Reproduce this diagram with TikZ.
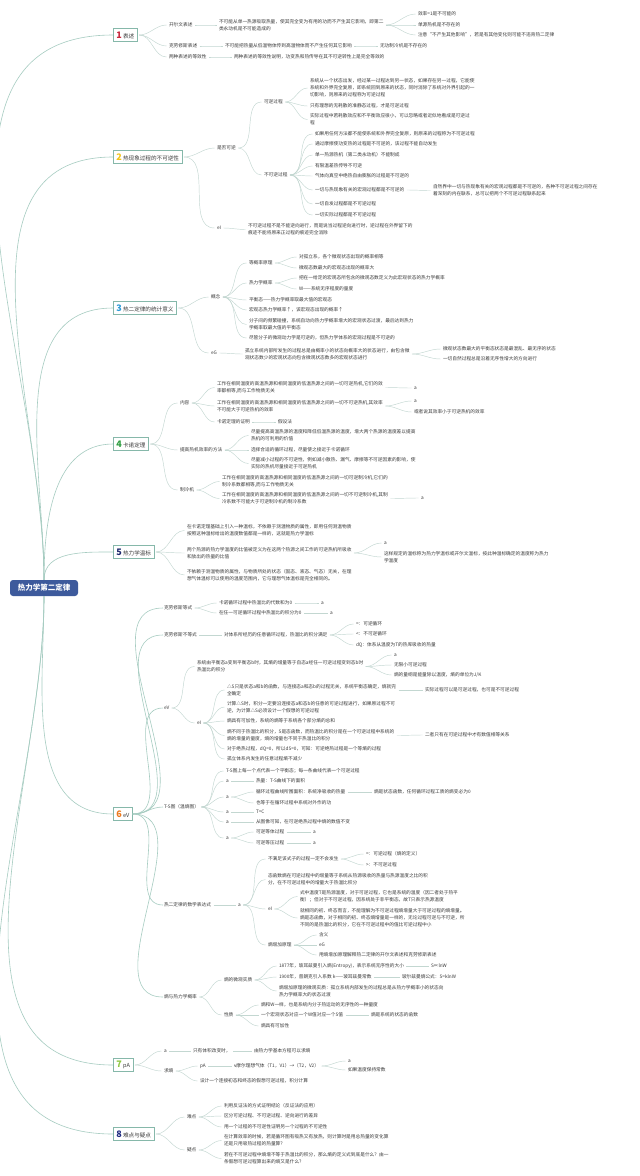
\documentclass[tikz,border=0pt]{standalone}
\usepackage{fontspec}
\setmainfont{Noto Sans CJK SC}
\definecolor{txtc}{HTML}{3A3A3A}
\definecolor{lnc}{HTML}{C3D7D1}
\definecolor{trunkc}{HTML}{A6CCC1}
\definecolor{boxc}{HTML}{86B8AA}
\definecolor{rootc}{HTML}{3D5A9C}
\definecolor{cA}{HTML}{C7283C}
\definecolor{cB}{HTML}{F2C41A}
\definecolor{cC}{HTML}{2C9AD6}
\definecolor{cD}{HTML}{2F9E42}
\definecolor{cE}{HTML}{1F2A6E}
\definecolor{cF}{HTML}{EC7A1E}
\definecolor{cG}{HTML}{8CC63F}
\definecolor{cH}{HTML}{1E2A80}
\newcommand\mmnum[2]{{\fontsize{9}{9}\selectfont\bfseries\color{#1}#2}}
\tikzset{
  txt/.style={anchor=west,align=left,inner sep=0.8pt,text=txtc,font=\fontsize{4.7}{7}\selectfont},
  brbox/.style={anchor=west,draw=boxc,fill=white,line width=0.7pt,inner xsep=3pt,inner ysep=1pt,minimum height=12.5pt,text=txtc,font=\fontsize{5.6}{6}\selectfont},
  rootbox/.style={fill=rootc,rounded corners=3pt,text=white,minimum width=68pt,minimum height=16pt,font=\fontsize{7.5}{8}\selectfont\bfseries},
  thinln/.style={draw=lnc,line width=0.45pt,shorten <=1.5pt,shorten >=1.5pt},
  trunkln/.style={draw=trunkc,line width=0.6pt}
}
\newcommand\mmt[4]{\node[txt] (#1) at (#2,#3) {#4};}
\newcommand\mml[2]{\draw[thinln] (#1.east) to[out=0,in=180] (#2.west);}
\newcommand\mmf[2]{\foreach \nn in {#2} {\mml{#1}{\nn}}}
\begin{document}
\begin{tikzpicture}[x=1pt,y=-1pt]
\fill[white] (0,0) rectangle (640,1176);
\useasboundingbox (0,0) rectangle (640,1176);
% root
\node[rootbox] (root) at (44,588) {热力学第二定律};
% branch boxes
\node[brbox] (b1) at (113,35) {\mmnum{cA}{1} 表述};
\node[brbox] (b2) at (113,157) {\mmnum{cB}{2} 热现象过程的不可逆性};
\node[brbox] (b3) at (113,308) {\mmnum{cC}{3} 热二定律的统计意义};
\node[brbox] (b4) at (113,444) {\mmnum{cD}{4} 卡诺定理};
\node[brbox] (b5) at (113,552) {\mmnum{cE}{5} 热力学温标};
\node[brbox] (b6) at (113,814) {\mmnum{cF}{6} eV};
\node[brbox] (b7) at (113,1065) {\mmnum{cG}{7} pA};
\node[brbox] (b8) at (113,1134) {\mmnum{cH}{8} 难点与疑点};
\foreach \nn in {b1,b2,b3,b4,b5} {\draw[trunkln] (root.north) to[out=90,in=180] (\nn.west);}
\foreach \nn in {b6,b7,b8} {\draw[trunkln] (root.south) to[out=-90,in=180] (\nn.west);}
% ---------- section 1
\mmt{s1a}{168}{25}{开尔文表述}
\mmt{s1a1}{218}{25}{不可能从单一热源吸取热量，使其完全变为有用的功而不产生其它影响，即第二\\类永动机是不可能造成的}
\mmt{s1a1a}{417}{14}{效率=1是不可能的}
\mmt{s1a1b}{417}{25}{单源热机是不存在的}
\mmt{s1a1c}{417}{35}{注意“不产生其他影响”，若是有其他变化则可能不违背热二定律}
\mmt{s1b}{168}{46}{克劳修斯表述}
\mmt{s1b1}{224}{46}{不可能把热量从低温物体传到高温物体而不产生任何其它影响}
\mmt{s1b2}{379}{46}{无功制冷机是不存在的}
\mmt{s1c}{168}{57}{两种表述的等效性}
\mmt{s1c1}{233}{57}{两种表述的等效性说明，功变热和热传导在其不可逆转性上是完全等效的}
\mmf{b1}{s1a,s1b,s1c}
\mml{s1a}{s1a1}
\mmf{s1a1}{s1a1a,s1a1b,s1a1c}
\mml{s1b}{s1b1} \mml{s1b1}{s1b2} \mml{s1c}{s1c1}
% ---------- section 2
\mmt{s2a}{216}{148}{是否可逆}
\mmt{s2a1}{263}{102}{可逆过程}
\mmt{s2a1a}{309}{88}{系统从一个状态出发，经过某一过程达到另一状态，如果存在另一过程，它能使\\系统和外界完全复原，即系统回到原来的状态，同时消除了系统对外界引起的一\\切影响，则原来的过程称为可逆过程}
\mmt{s2a1b}{309}{106}{只有理想的无耗散的准静态过程，才是可逆过程}
\mmt{s2a1c}{309}{119.5}{实际过程中若耗散效应和不平衡效应很小，可以忽略或者近似地看成是可逆过\\程}
\mmt{s2a2}{263}{175}{不可逆过程}
\mmt{s2a2a}{314}{134}{如果用任何方法都不能使系统和外界完全复原，则原来的过程称为不可逆过程}
\mmt{s2a2b}{314}{144}{通过摩擦使功变热的过程是不可逆的，该过程不能自动发生}
\mmt{s2a2c}{314}{155}{单一热源热机（第二类永动机）不能制成}
\mmt{s2a2d}{314}{166}{有限温差热传导不可逆}
\mmt{s2a2e}{314}{176}{气体向真空中绝热自由膨胀的过程是不可逆的}
\mmt{s2a2f}{314}{190}{一切与热现象有关的宏观过程都是不可逆的}
\mmt{s2a2g}{314}{204}{一切自发过程都是不可逆过程}
\mmt{s2a2h}{314}{215}{一切实际过程都是不可逆过程}
\mmt{s2a2f1}{432}{190.5}{自然界中一切与热现象有关的宏观过程都是不可逆的，各种不可逆过程之间存在\\着深刻的内在联系，总可以把两个不可逆过程联系起来}
\mmt{s2b}{216}{228}{eI}
\mmt{s2b1}{247}{229.5}{不可逆过程不是不能逆向进行，而是说当过程逆向进行时，逆过程在外界留下的\\痕迹不能将原来正过程的痕迹完全消除}
\mml{b2}{s2a} \mml{b2}{s2b}
\mml{s2a}{s2a1} \mml{s2a}{s2a2}
\mmf{s2a1}{s2a1a,s2a1b,s2a1c}
\mmf{s2a2}{s2a2a,s2a2b,s2a2c,s2a2d,s2a2e,s2a2f,s2a2g,s2a2h}
\mml{s2a2f}{s2a2f1} \mml{s2b}{s2b1}
% ---------- section 3
\mmt{s3a}{210}{297}{概念}
\mmt{s3a1}{248}{263}{等概率原理}
\mmt{s3a1a}{298}{257}{对孤立系，各个微观状态出现的概率相等}
\mmt{s3a1b}{298}{268}{微观态数最大的宏观态出现的概率大}
\mmt{s3a2}{248}{283}{热力学概率}
\mmt{s3a2a}{298}{278}{把在一给定的宏观态所包含的微观态数定义为此宏观状态的热力学概率}
\mmt{s3a2b}{298}{289}{W——系统无序程度的量度}
\mmt{s3a3}{248}{300}{平衡态——热力学概率取最大值的宏观态}
\mmt{s3a4}{248}{310}{宏观态热力学概率↑，该宏观态出现的概率↑}
\mmt{s3a5}{248}{324.5}{分子间的频繁碰撞，系统自动向热力学概率增大的宏观状态过渡，最后达到热力\\学概率取最大值的平衡态}
\mmt{s3a6}{248}{338}{尽管分子的微观动力学是可逆的，但热力学体系的宏观过程是不可逆的}
\mmt{s3b}{210}{353}{eG}
\mmt{s3b1}{244}{354}{孤立系统内部所发生的过程总是由概率小的状态向概率大的状态进行，由包含微\\观状态数少的宏观状态向包含微观状态数多的宏观状态进行}
\mmt{s3b1a}{442}{349}{微观状态数最大的平衡态状态是最混乱、最无序的状态}
\mmt{s3b1b}{442}{359}{一切自然过程总是沿着无序性增大的方向进行}
\mml{b3}{s3a} \mml{b3}{s3b}
\mmf{s3a}{s3a1,s3a2,s3a3,s3a4,s3a5,s3a6}
\mml{s3a1}{s3a1a} \mml{s3a1}{s3a1b} \mml{s3a2}{s3a2a} \mml{s3a2}{s3a2b}
\mml{s3b}{s3b1} \mml{s3b1}{s3b1a} \mml{s3b1}{s3b1b}
% ---------- section 4
\mmt{s4a}{179}{403}{内容}
\mmt{s4a1}{216}{387.5}{工作在相同温度的高温热源和相同温度的低温热源之间的一切可逆热机,它们的效\\率都相等,而与工作物质无关}
\mmt{s4a1a}{413}{388}{a}
\mmt{s4a2}{216}{406}{工作在相同温度的高温热源和相同温度的低温热源之间的一切不可逆热机,其效率\\不可能大于可逆热机的效率}
\mmt{s4a2a}{413}{401}{a}
\mmt{s4a2b}{413}{412}{或者说其效率小于可逆热机的效率}
\mmt{s4a3}{216}{422}{卡诺定理的证明}
\mmt{s4a3a}{277}{422}{假设法}
\mmt{s4b}{179}{450}{提高热机效率的方法}
\mmt{s4b1}{250}{435.5}{尽量提高高温热源的温度和降低低温热源的温度，增大两个热源的温度差以提高\\热机的可利用的价值}
\mmt{s4b2}{250}{450}{选择合适的循环过程，尽量使之接近于卡诺循环}
\mmt{s4b3}{250}{463.5}{尽量减小过程的不可逆性，例如减小散热、漏气、摩擦等不可逆因素的影响，使\\实际的热机尽量接近于可逆热机}
\mmt{s4c}{179}{490}{制冷机}
\mmt{s4c1}{221}{481.5}{工作在相同温度的高温热源和相同温度的低温热源之间的一切可逆制冷机,它们的\\制冷系数都相等,而与工作物质无关}
\mmt{s4c2}{221}{498.5}{工作在相同温度的高温热源和相同温度的低温热源之间的一切不可逆制冷机,其制\\冷系数不可能大于可逆制冷机的制冷系数}
\mmt{s4c2a}{420}{498}{a}
\mml{b4}{s4a} \mml{b4}{s4b} \mml{b4}{s4c}
\mmf{s4a}{s4a1,s4a2,s4a3}
\mml{s4a1}{s4a1a} \mml{s4a2}{s4a2a} \mml{s4a2}{s4a2b} \mml{s4a3}{s4a3a}
\mmf{s4b}{s4b1,s4b2,s4b3}
\mml{s4c}{s4c1} \mml{s4c}{s4c2} \mml{s4c2}{s4c2a}
% ---------- section 5
\mmt{s5a}{186}{530.5}{在卡诺定理基础上引入一种温标，不依赖于测温物质的属性，即用任何测温物质\\按照这种温标给出的温度数值都是一样的，这就是热力学温标}
\mmt{s5b}{186}{553}{两个热源的热力学温度的比值被定义为在这两个热源之间工作的可逆热机所吸收\\和放出的热量的比值}
\mmt{s5b1}{383}{543}{a}
\mmt{s5b2}{383}{557}{这样规定的温标称为热力学温标或开尔文温标，按此种温标确定的温度称为热力\\学温度}
\mmt{s5c}{186}{575}{不依赖于测温物质的属性，与物质所处的状态（固态、液态、气态）无关，在理\\想气体温标可以使用的温度范围内，它与理想气体温标是完全相同的。}
\mmf{b5}{s5a,s5b,s5c}
\mml{s5b}{s5b1} \mml{s5b}{s5b2}
% ---------- section 6
\mmt{s6a}{163}{608}{克劳修斯等式}
\mmt{s6a1}{218}{603}{卡诺循环过程中热温比的代数和为0}
\mmt{s6a1a}{320}{603}{a}
\mmt{s6a2}{218}{613}{在任一可逆循环过程中热温比的积分为0}
\mmt{s6a2a}{329}{613}{a}
\mmt{s6b}{163}{635}{克劳修斯不等式}
\mmt{s6b1}{223}{635}{对体系所经历的任意循环过程，热温比的积分满足}
\mmt{s6b1a}{355}{624}{=：可逆循环}
\mmt{s6b1b}{355}{634}{<：不可逆循环}
\mmt{s6b1c}{355}{645}{dQ：体系从温度为T的热库吸收的热量}
\mmt{s6c}{163}{708}{eV}
\mmt{s6c1}{196}{666.5}{系统由平衡态a变到平衡态b时，其熵的增量等于自态a经任一可逆过程变到态b时\\热温比的积分}
\mmt{s6c1a}{393}{655}{a}
\mmt{s6c1b}{393}{665}{无限小可逆过程}
\mmt{s6c1c}{393}{675}{熵的量纲是能量除以温度，熵的单位为J/K}
\mmt{s6c2}{196}{723}{eI}
\mmt{s6c2a}{226}{690}{△S只是状态a和b的函数，与连接态a和态b的过程无关，系统平衡态确定，熵就完\\全确定}
\mmt{s6c2a1}{424}{690}{实际过程可以是可逆过程，也可是不可逆过程}
\mmt{s6c2b}{226}{707}{计算△S时，积分一定要沿连接态a和态b的任意的可逆过程进行，如果原过程不可\\逆，为计算△S必须设计一个假想的可逆过程}
\mmt{s6c2c}{226}{721}{熵具有可加性，系统的熵等于系统各个部分熵的总和}
\mmt{s6c2d}{226}{735.5}{熵不同于热温比的积分，S是态函数，而热温比的积分是在一个可逆过程中系统的\\熵的增量的量度，熵的增量也不同于热温比的积分}
\mmt{s6c2d1}{424}{735}{二者只有在可逆过程中才有数值相等关系}
\mmt{s6c2e}{226}{749}{对于绝热过程，dQ=0，所以dS=0，可知：可逆绝热过程是一个等熵的过程}
\mmt{s6c2f}{226}{759}{孤立体系内发生的任意过程熵不减少}
\mmt{s6d}{163}{807}{T-S图（温熵图）}
\mmt{s6d1}{225}{771}{T-S图上每一个点代表一个平衡态；每一条曲线代表一个可逆过程}
\mmt{s6d2}{225}{781}{a}
\mmt{s6d2a}{255}{781}{热量：T-S曲线下的面积}
\mmt{s6d3}{225}{797}{a}
\mmt{s6d3a}{255}{792}{循环过程曲线所围面积：系统净吸收的热量}
\mmt{s6d3a1}{373}{792}{熵是状态函数，任何循环过程工质的熵变必为0}
\mmt{s6d3b}{255}{803}{也等于在循环过程中系统对外作的功}
\mmt{s6d4}{225}{812}{a}
\mmt{s6d4a}{255}{812}{T=C}
\mmt{s6d5}{225}{822}{a}
\mmt{s6d5a}{255}{822}{从图像可知，在可逆绝热过程中熵的数值不变}
\mmt{s6d6}{225}{838}{a}
\mmt{s6d6a}{255}{832}{可逆等体过程}
\mmt{s6d6a1}{312}{832}{a}
\mmt{s6d6b}{255}{843}{可逆等压过程}
\mmt{s6d6b1}{312}{843}{a}
\mmt{s6e}{163}{905}{热二定律的数学表达式}
\mmt{s6e1}{237}{905}{a}
\mmt{s6e1a}{267}{859}{不满足该式子的过程一定不会发生}
\mmt{s6e1a1}{365}{854}{=：可逆过程（熵的定义）}
\mmt{s6e1a2}{365}{865}{>：不可逆过程}
\mmt{s6e1b}{267}{879.5}{态函数熵在可逆过程中的增量等于系统从热源吸收的热量与热源温度之比的积\\分，在不可逆过程中的增量大于热温比积分}
\mmt{s6e1c}{267}{909}{eI}
\mmt{s6e1c1}{299}{896.5}{式中温度T是热源温度，对于可逆过程，它也是系统的温度（因二者处于热平\\衡）；但对于不可逆过程，因系统处于非平衡态，故T只表示热源温度}
\mmt{s6e1c2}{299}{918}{就相同的初、终态而言，不能理解为不可逆过程熵增量大于可逆过程的熵增量。\\熵是态函数，对于相同的初、终态熵增量是一样的，无论过程可逆与不可逆，所\\不同的是热温比的积分，它在不可逆过程中的值比可逆过程中小}
\mmt{s6e1d}{267}{945}{熵增加原理}
\mmt{s6e1d1}{318}{935}{含义}
\mmt{s6e1d2}{318}{945}{eG}
\mmt{s6e1d3}{318}{955}{用熵增加原理解释热二定律的开尔文表述和克劳修斯表述}
\mmt{s6f}{163}{997}{熵与热力学概率}
\mmt{s6f1}{223}{980}{熵的微观实质}
\mmt{s6f1a}{278}{966}{1877年，玻耳兹曼引入熵(Entropy)，表示系统无序性的大小}
\mmt{s6f1a1}{430}{966}{S∝lnW}
\mmt{s6f1b}{278}{977}{1900年，普朗克引入系数 k——玻耳兹曼常数}
\mmt{s6f1b1}{401}{977}{玻尔兹曼熵公式：S=klnW}
\mmt{s6f1c}{278}{991}{熵增加原理的微观实质：孤立系统内部发生的过程总是从热力学概率小的状态向\\热力学概率大的状态过渡}
\mmt{s6f2}{223}{1015}{性质}
\mmt{s6f2a}{260}{1005}{熵和W一样，也是系统内分子热运动的无序性的一种量度}
\mmt{s6f2b}{260}{1015}{一个宏观状态对应一个W值对应一个S值}
\mmt{s6f2b1}{370}{1015}{熵是系统的状态的函数}
\mmt{s6f2c}{260}{1026}{熵具有可加性}
\foreach \nn in {s6a,s6b,s6c,s6d,s6e,s6f} {\draw[trunkln] (b6.east) to[out=0,in=180] (\nn.west);}
\mml{s6a}{s6a1} \mml{s6a}{s6a2} \mml{s6a1}{s6a1a} \mml{s6a2}{s6a2a}
\mml{s6b}{s6b1}
\mmf{s6b1}{s6b1a,s6b1b,s6b1c}
\mml{s6c}{s6c1} \mml{s6c}{s6c2}
\mmf{s6c1}{s6c1a,s6c1b,s6c1c}
\mmf{s6c2}{s6c2a,s6c2b,s6c2c,s6c2d,s6c2e,s6c2f}
\mml{s6c2a}{s6c2a1} \mml{s6c2d}{s6c2d1}
\mmf{s6d}{s6d1,s6d2,s6d3,s6d4,s6d5,s6d6}
\mml{s6d2}{s6d2a} \mml{s6d3}{s6d3a} \mml{s6d3}{s6d3b} \mml{s6d3a}{s6d3a1}
\mml{s6d4}{s6d4a} \mml{s6d5}{s6d5a} \mml{s6d6}{s6d6a} \mml{s6d6}{s6d6b}
\mml{s6d6a}{s6d6a1} \mml{s6d6b}{s6d6b1}
\mml{s6e}{s6e1}
\mmf{s6e1}{s6e1a,s6e1b,s6e1c,s6e1d}
\mml{s6e1a}{s6e1a1} \mml{s6e1a}{s6e1a2}
\mml{s6e1c}{s6e1c1} \mml{s6e1c}{s6e1c2}
\mmf{s6e1d}{s6e1d1,s6e1d2,s6e1d3}
\mml{s6f}{s6f1} \mml{s6f}{s6f2}
\mmf{s6f1}{s6f1a,s6f1b,s6f1c}
\mml{s6f1a}{s6f1a1} \mml{s6f1b}{s6f1b1}
\mmf{s6f2}{s6f2a,s6f2b,s6f2c}
\mml{s6f2b}{s6f2b1}
% ---------- section 7
\mmt{s7a}{163}{1051}{a}
\mmt{s7a1}{192}{1051}{只有体积改变时，}
\mmt{s7a2}{253}{1051}{由热力学基本方程可以求熵}
\mmt{s7b}{163}{1071}{求熵}
\mmt{s7b1}{199}{1066}{pA}
\mmt{s7b1a}{233}{1066}{ν摩尔理想气体（T1，V1）→（T2，V2）}
\mmt{s7b1a1}{347}{1061}{a}
\mmt{s7b1a2}{347}{1070}{如果温度保持常数}
\mmt{s7b2}{199}{1081}{设计一个连接初态和终态的假想可逆过程，积分计算}
\mml{b7}{s7a} \mml{b7}{s7b}
\mml{s7a}{s7a1} \mml{s7a1}{s7a2}
\mml{s7b}{s7b1} \mml{s7b}{s7b2} \mml{s7b1}{s7b1a}
\mml{s7b1a}{s7b1a1} \mml{s7b1a}{s7b1a2}
% ---------- section 8
\mmt{s8a}{186}{1117}{难点}
\mmt{s8a1}{223}{1106}{利用反证法的方式证明结论（反证法的应用）}
\mmt{s8a2}{223}{1116}{区分可逆过程、不可逆过程、逆向进行的差异}
\mmt{s8a3}{223}{1127}{用一个过程的不可逆性证明另一个过程的不可逆性}
\mmt{s8b}{186}{1150}{疑点}
\mmt{s8b1}{223}{1140.5}{在计算效率的时候，若是循环图有吸热又有放热，则计算时是用总热量的变化算\\还是只用吸热过程的热量算？}
\mmt{s8b2}{223}{1158.5}{若在不可逆过程中熵增不等于热温比的积分，那么熵的定义式到底是什么？由一\\条假想可逆过程算出来的熵又是什么？}
\mml{b8}{s8a} \mml{b8}{s8b}
\mmf{s8a}{s8a1,s8a2,s8a3}
\mml{s8b}{s8b1} \mml{s8b}{s8b2}
\end{tikzpicture}
\end{document}
